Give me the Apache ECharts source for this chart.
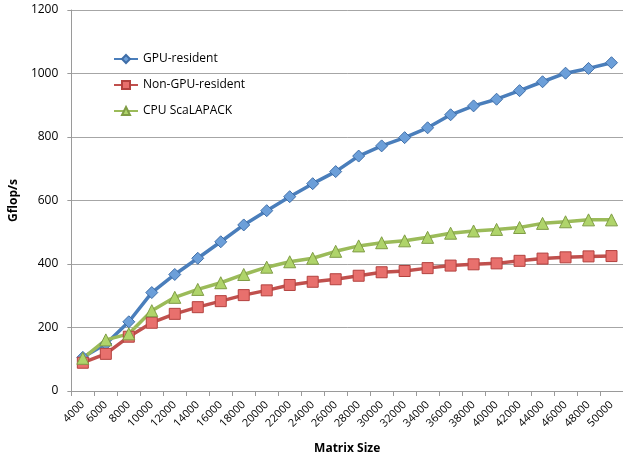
<!DOCTYPE html>
<html>
<head>
<meta charset="utf-8">
<script src="https://cdn.jsdelivr.net/npm/echarts@6/dist/echarts.min.js"></script>
<style>
  html, body { margin: 0; padding: 0; background: #fff; }
  #chart { width: 623px; height: 464px; }
</style>
</head>
<body>
<div id="chart"></div>
<script>
// Matrix sizes (x categories)
const matrixSizes = ['4000','6000','8000','10000','12000','14000','16000','18000','20000','22000','24000','26000',
  '28000','30000','32000','34000','36000','38000','40000','42000','44000','46000','48000','50000'];

// Performance in Gflop/s
const gpuResident = [106, 148, 218, 310, 367, 418, 470, 523, 568, 612, 653, 691,
  740, 772, 798, 829, 870, 898, 919, 946, 974, 1001, 1016, 1034];
const nonGpuResident = [89, 117, 171, 215, 243, 264, 283, 302, 317, 334, 344, 352,
  363, 374, 378, 387, 395, 399, 402, 410, 417, 421, 424, 425];
const cpuScaLapack = [103, 161, 180, 253, 295, 320, 341, 367, 390, 407, 418, 440,
  457, 467, 473, 484, 497, 504, 509, 515, 528, 533, 539, 539];

const yTicks = [0, 200, 400, 600, 800, 1000, 1200];

const fontFamily = '"Open Sans", "DejaVu Sans", sans-serif';
const chart = echarts.init(document.getElementById('chart'));

function lineSeries(name, data, symbol, size, lineColor, fill, border) {
  return {
    name, type: 'line', data,
    symbol, symbolSize: size,
    lineStyle: { color: lineColor, width: 3.5 },
    itemStyle: { color: fill, borderColor: border, borderWidth: 1 },
    emphasis: { disabled: true },
    animation: false
  };
}

chart.setOption({
  animation: false,
  grid: { left: 63, top: 10, right: 0, bottom: 73 },
  legend: {
    orient: 'vertical',
    left: 108, top: 48,
    itemWidth: 24, itemHeight: 10, itemGap: 14,
    textStyle: { fontFamily, fontSize: 12, color: '#000' },
    data: ['GPU-resident', 'Non-GPU-resident', 'CPU ScaLAPACK']
  },
  xAxis: {
    type: 'category',
    data: matrixSizes,
    boundaryGap: true,
    name: 'Matrix Size',
    nameLocation: 'middle',
    nameGap: 52,
    nameTextStyle: { fontFamily, fontSize: 12, fontWeight: 'bold', color: '#000' },
    axisLine: { lineStyle: { color: '#9a9a9a', width: 1 } },
    axisTick: { show: true, length: 5, lineStyle: { color: '#9a9a9a' } },
    axisLabel: { rotate: 45, fontFamily, fontSize: 11, color: '#000', margin: 12, interval: 0 }
  },
  yAxis: {
    type: 'value',
    min: yTicks[0], max: yTicks[yTicks.length - 1], interval: 200,
    name: 'Gflop/s',
    nameLocation: 'middle',
    nameGap: 40,
    nameTextStyle: { fontFamily, fontSize: 12, fontWeight: 'bold', color: '#000' },
    axisLine: { show: true, lineStyle: { color: '#9a9a9a', width: 1 } },
    axisTick: { show: true, length: 4, lineStyle: { color: '#9a9a9a' } },
    axisLabel: { fontFamily, fontSize: 12, color: '#000', margin: 13, formatter: v => String(v) },
    splitLine: { lineStyle: { color: '#a6a6a6', width: 1 } }
  },
  series: [
    lineSeries('GPU-resident', gpuResident, 'diamond', 12, '#4a7ebb', '#6c9fd9', '#3f6ea8'),
    lineSeries('Non-GPU-resident', nonGpuResident, 'rect', 11, '#c0504d', '#e8706d', '#b3413e'),
    lineSeries('CPU ScaLAPACK', cpuScaLapack, 'triangle', 12, '#9bbb59', '#afd46a', '#7f9c45')
  ]
});
</script>
</body>
</html>
